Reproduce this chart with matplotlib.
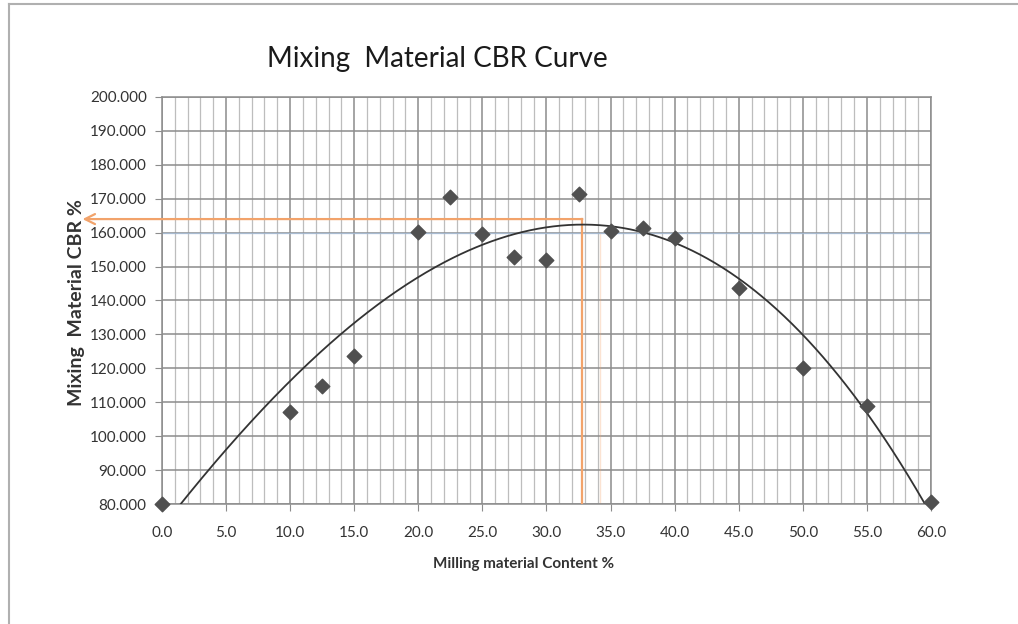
import numpy as np
import matplotlib
matplotlib.use("Agg")
import matplotlib.pyplot as plt
from matplotlib.lines import Line2D
from matplotlib.ticker import MultipleLocator, FormatStrFormatter

# Data
milling_content = [0.0, 10.0, 12.5, 15.0, 20.0, 22.5, 25.0, 27.5, 30.0,
                   32.5, 35.0, 37.5, 40.0, 45.0, 50.0, 55.0, 60.0]
mixing_cbr = [80.0, 107.1, 114.8, 123.6, 160.3, 170.6, 159.6, 152.9, 151.8,
              171.4, 160.6, 161.4, 158.5, 143.8, 120.1, 108.9, 80.6]

# optimum
opt_content = 32.8
opt_cbr = 164.0

plt.rcParams['font.family'] = ['Lato', 'DejaVu Sans']

fig = plt.figure(figsize=(10.18, 6.24), dpi=100)
ax = fig.add_axes([0.1591, 0.1923, 0.9145 - 0.1591, 0.8446 - 0.1923])

# polynomial trendline (like the spreadsheet one)
coef = np.polyfit(milling_content, mixing_cbr, 3)
xs = np.linspace(0, 60, 400)
ax.plot(xs, np.polyval(coef, xs), color='#333333', lw=1.3, zorder=4)

ax.scatter(milling_content, mixing_cbr, marker='D', s=55, color='#505050',
           zorder=5, clip_on=False)

# orange guide lines
orange = '#F2A36B'
ax.plot([opt_content, opt_content], [80, opt_cbr], color=orange, lw=1.6, zorder=3)
ax.plot([opt_content + 1.4, opt_content + 1.4], [80, 160], color=orange,
        lw=1.0, alpha=0.3, zorder=2)
ax.axhline(160, color='#A9C4E4', lw=1.0, alpha=0.7, zorder=2)
ax.annotate('', xy=(-6.2, opt_cbr), xytext=(opt_content, opt_cbr),
            annotation_clip=False,
            arrowprops=dict(arrowstyle='->', color=orange, lw=1.6,
                            mutation_scale=18, shrinkA=0, shrinkB=0),
            zorder=3)

ax.set_xlim(0, 60)
ax.set_ylim(80, 200)
ax.xaxis.set_major_locator(MultipleLocator(5))
ax.xaxis.set_minor_locator(MultipleLocator(1))
ax.yaxis.set_major_locator(MultipleLocator(10))
ax.xaxis.set_major_formatter(FormatStrFormatter('%.1f'))
ax.yaxis.set_major_formatter(FormatStrFormatter('%.3f'))

ax.grid(which='major', color='#8c8c8c', lw=1.1, zorder=0)
ax.grid(which='minor', axis='x', color='#bdbdbd', lw=0.9, zorder=0)
ax.set_axisbelow(True)
for s in ax.spines.values():
    s.set_color('#8c8c8c')
    s.set_linewidth(1.1)

ax.tick_params(which='major', direction='out', length=5, color='#8c8c8c',
               labelsize=11, labelcolor='#333333', pad=6)
ax.tick_params(which='minor', length=0)
ax.tick_params(axis='x', pad=11)

ax.set_xlabel('Milling material Content %', fontsize=11, fontweight='bold',
              color='#333333')
ax.xaxis.set_label_coords(0.47, -0.13)
ax.set_ylabel('Mixing  Material CBR %', fontsize=14, fontweight='bold',
              color='#333333')
ax.yaxis.set_label_coords(-0.1, 0.496)

fig.text(0.43, 0.905, 'Mixing  Material CBR Curve', fontsize=20,
         ha='center', va='center', color='#1a1a1a')

# chart frame (left and top edges visible in reference)
fig.add_artist(Line2D([0.009, 0.009], [0.0, 0.994], transform=fig.transFigure,
                      color='#b0b0b0', lw=1.5))
fig.add_artist(Line2D([0.009, 1.0], [0.994, 0.994], transform=fig.transFigure,
                      color='#b0b0b0', lw=1.5))

fig.savefig('out.png', dpi=100)
